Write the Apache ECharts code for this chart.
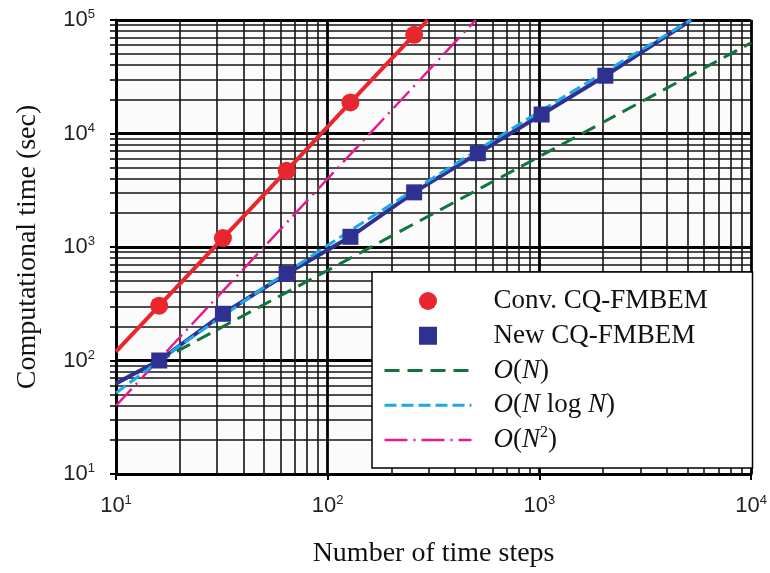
<!DOCTYPE html>
<html>
<head>
<meta charset="utf-8">
<script src="https://cdn.jsdelivr.net/npm/echarts@6/dist/echarts.min.js"></script>
<style>
html,body{margin:0;padding:0;background:#fff;}
#chart{width:770px;height:573px;}
</style>
</head>
<body>
<div id="chart"></div>
<script>
// ---- data ----
const convN = [16, 32, 64, 128, 256];
const convT = [304, 1200, 4700, 18800, 74000];
const newN = [16, 32, 64, 128, 256, 512, 1024, 2048];
const newT = [100, 258, 580, 1230, 3030, 6700, 14700, 32300];
const convFitN = [10, 16, 32, 64, 128, 256, 296];
const convFitT = [120, 304, 1200, 4700, 18800, 74000, 100000];
const newFitN = [10, 16, 32, 64, 128, 256, 512, 1024, 2048, 5200];
const newFitT = [63, 100, 258, 580, 1230, 3030, 6700, 14700, 32300, 100000];
// reference slopes
const oN_N = [10, 10000];
const oN_T = [62, 63000];
const oNlogN_N = [10, 20, 50, 100, 200, 500, 1000, 2000, 5000, 5200];
const oNlogN_T = [51.8, 134.8, 440, 1036, 2384, 6992, 15542, 34203, 95825, 100000];
const oN2_N = [10, 500];
const oN2_T = [40, 100000];
// axis ticks
const xMajor = [10, 100, 1000, 10000];
const xExp = ['1', '2', '3', '4'];
const yMajor = [10, 100, 1000, 10000, 100000];
const yExp = ['1', '2', '3', '4', '5'];
const legendNames = ['Conv. CQ-FMBEM', 'New CQ-FMBEM', 'O(N)', 'O(N log N)', 'O(N^2)'];

const xMinor = [], yMinor = [];
for (let d = 10; d < 10000; d *= 10) for (let k = 2; k <= 9; k++) xMinor.push(d * k);
for (let d = 10; d < 100000; d *= 10) for (let k = 2; k <= 9; k++) yMinor.push(d * k);

const zip = (a, b) => a.map((v, i) => [v, b[i]]);
const RED = '#e8262d', NAVY = '#2e3192', GREEN = '#12733e', CYAN = '#1ea8e6', MAG = '#e6198c';

function expLabel(v, majors, exps) {
  for (let i = 0; i < majors.length; i++) {
    if (Math.abs(v - majors[i]) < majors[i] * 1e-6) return '{b|10}{s|' + exps[i] + '}';
  }
  return '';
}
const tickRich = {
  b: {fontFamily: 'Liberation Sans', fontSize: 22, color: '#222', lineHeight: 24},
  s: {fontFamily: 'Liberation Sans', fontSize: 13, color: '#222', verticalAlign: 'top', lineHeight: 14}
};
const serif = 'Liberation Serif';
const legRich = {
  n: {fontFamily: serif, fontSize: 27, color: '#111', lineHeight: 30},
  i: {fontFamily: serif, fontSize: 27, fontStyle: 'italic', color: '#111', lineHeight: 30},
  s: {fontFamily: serif, fontSize: 16, color: '#111', verticalAlign: 'top', lineHeight: 18}
};
const legFmt = {
  'Conv. CQ-FMBEM': '{n|Conv. CQ-FMBEM}',
  'New CQ-FMBEM': '{n|New CQ-FMBEM}',
  'O(N)': '{i|O}{n|(}{i|N}{n|)}',
  'O(N log N)': '{i|O}{n|(}{i|N}{n| log }{i|N}{n|)}',
  'O(N^2)': '{i|O}{n|(}{i|N}{s|2}{n|)}'
};
const squareIcon = 'path://M0,0L10,0L10,10L0,10Z';
const hideSym = {opacity: 0};

const GREEN_DASH = [15, 8], CYAN_DASH = [12, 5], MAG_DASH = [23, 6, 2, 6];

const chart = echarts.init(document.getElementById('chart'), null, {renderer: 'canvas'});
chart.setOption({
  animation: false,
  backgroundColor: '#fff',
  grid: {left: 116, right: 18, top: 20, bottom: 97, show: true, backgroundColor: '#fbfbfb', borderWidth: 0},
  xAxis: [
    {
      type: 'log', logBase: 10, min: 10, max: 10000,
      axisLine: {show: true, lineStyle: {color: '#000', width: 2.6}},
      axisTick: {show: true, length: 6, inside: false, lineStyle: {color: '#000', width: 2}},
      splitLine: {show: true, lineStyle: {color: '#000', width: 2.8}},
      axisLabel: {margin: 20, formatter: v => expLabel(v, xMajor, xExp), rich: tickRich},
      name: 'Number of time steps', nameLocation: 'middle', nameGap: 66,
      nameTextStyle: {fontFamily: serif, fontSize: 28, color: '#111'}
    },
    {
      type: 'log', logBase: 10, min: 10, max: 10000, position: 'bottom',
      axisLine: {show: false},
      axisTick: {show: false, customValues: xMinor},
      axisLabel: {show: false},
      splitLine: {show: true, lineStyle: {color: '#151515', width: 1.6}}
    }
  ],
  yAxis: [
    {
      type: 'log', logBase: 10, min: 10, max: 100000,
      axisLine: {show: true, lineStyle: {color: '#000', width: 2.6}},
      axisTick: {show: true, length: 6, inside: false, lineStyle: {color: '#000', width: 2}},
      splitLine: {show: true, lineStyle: {color: '#000', width: 2.8}},
      axisLabel: {margin: 21, formatter: v => expLabel(v, yMajor, yExp), rich: tickRich},
      name: 'Computational time (sec)', nameLocation: 'middle', nameGap: 74,
      nameTextStyle: {fontFamily: serif, fontSize: 28, color: '#111'}
    },
    {
      type: 'log', logBase: 10, min: 10, max: 100000, position: 'left',
      axisLine: {show: false},
      axisTick: {show: true, length: 6, inside: false, customValues: yMinor, lineStyle: {color: '#111', width: 1.6}},
      axisLabel: {show: false},
      splitLine: {show: true, lineStyle: {color: '#151515', width: 1.6}}
    }
  ],
  legend: {
    orient: 'vertical', left: 372, top: 272,
    itemWidth: 87, itemHeight: 18, itemGap: 4.75,
    padding: [14, 10, 13, 11],
    backgroundColor: '#fff', borderColor: '#000', borderWidth: 1.5,
    selectedMode: false,
    data: [
      {name: legendNames[0], icon: 'circle'},
      {name: legendNames[1], icon: squareIcon, itemStyle: {color: NAVY}},
      {name: legendNames[2], itemStyle: hideSym, lineStyle: {color: GREEN, width: 3, type: GREEN_DASH}},
      {name: legendNames[3], itemStyle: hideSym, lineStyle: {color: CYAN, width: 3, type: CYAN_DASH}},
      {name: legendNames[4], itemStyle: hideSym, lineStyle: {color: MAG, width: 2.4, type: MAG_DASH}}
    ],
    formatter: name => legFmt[name],
    textStyle: {fontFamily: serif, fontSize: 27, color: '#111', padding: [0, 0, 0, 17], width: 249, lineHeight: 30, rich: legRich}
  },
  series: [
    {name: 'Conv. CQ-FMBEM', type: 'scatter', data: zip(convN, convT), symbol: 'circle', symbolSize: 18,
     itemStyle: {color: RED, opacity: 1}, z: 6},
    {name: 'New CQ-FMBEM', type: 'scatter', data: zip(newN, newT), symbol: 'rect', symbolSize: 16,
     itemStyle: {color: NAVY, opacity: 1}, z: 6},
    {name: 'O(N)', type: 'line', data: zip(oN_N, oN_T), symbol: 'none',
     lineStyle: {color: GREEN, width: 3, type: GREEN_DASH}, itemStyle: {color: GREEN}, z: 3},
    {name: 'O(N log N)', type: 'line', data: zip(oNlogN_N, oNlogN_T), symbol: 'none',
     lineStyle: {color: CYAN, width: 3, type: CYAN_DASH}, itemStyle: {color: CYAN}, z: 5},
    {name: 'O(N^2)', type: 'line', data: zip(oN2_N, oN2_T), symbol: 'none',
     lineStyle: {color: MAG, width: 2.4, type: MAG_DASH}, itemStyle: {color: MAG}, z: 3},
    {name: 'convFit', type: 'line', data: zip(convFitN, convFitT), symbol: 'none',
     lineStyle: {color: RED, width: 4}, itemStyle: {color: RED}, z: 4},
    {name: 'newFit', type: 'line', data: zip(newFitN, newFitT), symbol: 'none',
     lineStyle: {color: NAVY, width: 4}, itemStyle: {color: NAVY}, z: 4}
  ]
});
</script>
</body>
</html>
